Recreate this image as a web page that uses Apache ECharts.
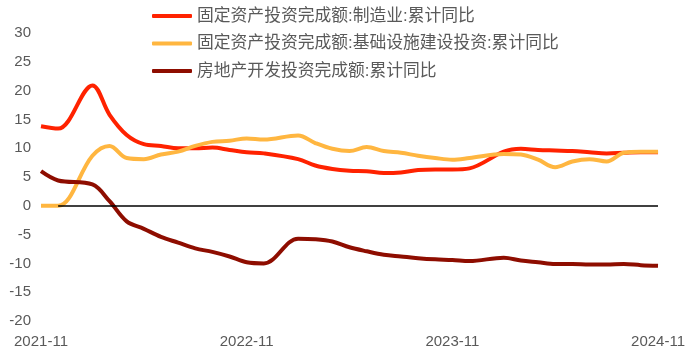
<!DOCTYPE html>
<html>
<head>
<meta charset="utf-8">
<script src="https://cdn.jsdelivr.net/npm/echarts@6/dist/echarts.min.js"></script>
<style>
html,body{margin:0;padding:0;background:#fff;}
#chart{width:688px;height:356px;}
</style>
</head>
<body>
<div id="chart"></div>
<script>
var categories = [
  '2021-11','2021-12',
  '2022-01','2022-02','2022-03','2022-04','2022-05','2022-06','2022-07','2022-08','2022-09','2022-10','2022-11','2022-12',
  '2023-01','2023-02','2023-03','2023-04','2023-05','2023-06','2023-07','2023-08','2023-09','2023-10','2023-11','2023-12',
  '2024-01','2024-02','2024-03','2024-04','2024-05','2024-06','2024-07','2024-08','2024-09','2024-10','2024-11'
];
var seriesNames = [
  '固定资产投资完成额:制造业:累计同比',
  '固定资产投资完成额:基础设施建设投资:累计同比',
  '房地产开发投资完成额:累计同比'
];
var manufacturing = [
  13.8, 13.4,
  null, 20.9, 15.8, 12.3, 10.7, 10.4, 10.0, 10.0, 10.1, 9.7, 9.3, 9.1,
  null, 8.1, 7.0, 6.4, 6.1, 6.0, 5.7, 5.8, 6.2, 6.3, 6.3, 6.5,
  null, 9.4, 9.9, 9.7, 9.6, 9.5, 9.3, 9.1, 9.2, 9.3, 9.3
];
var infrastructure = [
  0.0, 0.0,
  null, 8.7, 10.4, 8.3, 8.1, 8.9, 9.4, 10.4, 11.1, 11.3, 11.7, 11.5,
  null, 12.2, 10.9, 9.9, 9.5, 10.2, 9.5, 9.2, 8.7, 8.3, 8.0, 8.3,
  null, 9.0, 8.9, 8.0, 6.7, 7.7, 8.1, 7.7, 9.2, 9.4, 9.4
];
var realEstate = [
  6.0, 4.4,
  null, 3.7, 0.8, -2.7, -4.0, -5.4, -6.4, -7.4, -8.0, -8.8, -9.8, -10.0,
  null, -5.7, -5.8, -6.2, -7.2, -7.9, -8.5, -8.8, -9.1, -9.3, -9.4, -9.6,
  null, -9.0, -9.5, -9.8, -10.1, -10.1, -10.2, -10.2, -10.1, -10.3, -10.4
];
var yMin = -20, yMax = 30, yStep = 5;
var zeroLineFrom = '2021-12', zeroLineTo = '2024-11';

var colors = ['#FF2200', '#FFB640', '#8E0D00'];
var font = "'Liberation Sans','Noto Sans CJK SC',sans-serif";
var textColor = '#595959';

function lineSeries(name, data, color) {
  return {
    name: name, type: 'line', data: data, smooth: 0.35, connectNulls: true,
    symbol: 'none', lineStyle: {width: 4, color: color}, itemStyle: {color: color},
    emphasis: {disabled: true}
  };
}

var chart = echarts.init(document.getElementById('chart'), null, {renderer: 'canvas'});
chart.setOption({
  animation: false,
  backgroundColor: '#ffffff',
  grid: {left: 41, right: 28, top: 33, bottom: 35, containLabel: false},
  legend: {
    orient: 'vertical', left: 147, top: 2, itemWidth: 40, itemHeight: 4, itemGap: 9.5,
    icon: 'roundRect',
    data: seriesNames,
    textStyle: {fontSize: 16.8, color: textColor, fontFamily: font, lineHeight: 18}
  },
  xAxis: {
    type: 'category', data: categories, boundaryGap: false,
    axisLine: {show: false}, axisTick: {show: false}, splitLine: {show: false},
    axisLabel: {interval: 11, fontSize: 15, color: textColor, fontFamily: font, margin: 13}
  },
  yAxis: {
    type: 'value', min: yMin, max: yMax, interval: yStep,
    axisLine: {show: false}, axisTick: {show: false}, splitLine: {show: false},
    axisLabel: {fontSize: 15, color: textColor, fontFamily: font, margin: 10}
  },
  series: [
    {
      name: 'zero', type: 'line', data: categories.map(function(){return null;}), symbol: 'none',
      markLine: {
        silent: true, symbol: 'none', label: {show: false},
        lineStyle: {color: '#000', width: 1.5, type: 'solid'},
        data: [[{coord: [zeroLineFrom, 0]}, {coord: [zeroLineTo, 0]}]]
      }
    },
    lineSeries(seriesNames[0], manufacturing, colors[0]),
    lineSeries(seriesNames[1], infrastructure, colors[1]),
    lineSeries(seriesNames[2], realEstate, colors[2])
  ]
});
</script>
</body>
</html>
